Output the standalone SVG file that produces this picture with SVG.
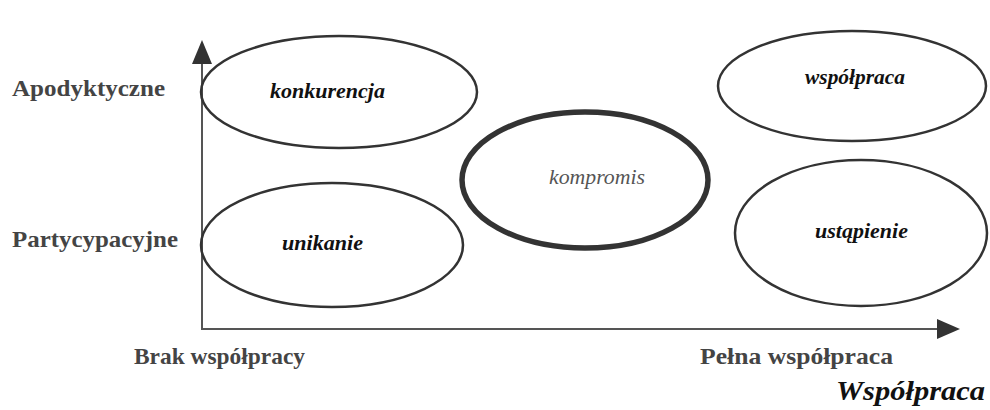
<svg xmlns="http://www.w3.org/2000/svg" width="990" height="410" viewBox="0 0 990 410">
<style>
.e{fill:none;stroke:#333;stroke-width:2.5}
.ax{stroke:#555;stroke-width:2;fill:none}
.lab{font-family:'Liberation Serif',serif;font-weight:bold;font-size:23px;fill:#444}
.in{font-family:'Liberation Serif',serif;font-weight:bold;font-style:italic;font-size:21px;fill:#111}
</style>
<rect width="990" height="410" fill="#fff"/>
<g id="connectors">
<line class="ax" x1="202" y1="330" x2="202" y2="50"/>
<path d="M192,64 L202,40 L212,64 Z" fill="#333"/>
<line class="ax" x1="202" y1="329" x2="945" y2="329"/>
<path d="M937,319 L960,329 L937,339 Z" fill="#333"/>
</g>
<g id="konkurencja"><ellipse class="e" cx="339" cy="92" rx="138" ry="56"/><text class="in" x="270" y="98" textLength="115" lengthAdjust="spacingAndGlyphs">konkurencja</text></g>
<g id="unikanie"><ellipse class="e" cx="332" cy="245" rx="131" ry="62"/><text class="in" x="282" y="250" textLength="81" lengthAdjust="spacingAndGlyphs">unikanie</text></g>
<g id="kompromis"><ellipse cx="585" cy="180" rx="123" ry="68" fill="none" stroke="#333" stroke-width="5.5"/><text x="549" y="184" style="font-family:'Liberation Serif',serif;font-style:italic;font-size:20px;fill:#555" textLength="96" lengthAdjust="spacingAndGlyphs">kompromis</text></g>
<g id="wspolpraca"><ellipse class="e" cx="852" cy="86" rx="134" ry="55"/><text class="in" x="805" y="84" textLength="100" lengthAdjust="spacingAndGlyphs">współpraca</text></g>
<g id="ustapienie"><ellipse class="e" cx="861" cy="233" rx="126" ry="73"/><text class="in" x="815" y="238" textLength="93" lengthAdjust="spacingAndGlyphs">ustąpienie</text></g>
<g id="labels">
<text class="lab" x="12" y="96" textLength="153" lengthAdjust="spacingAndGlyphs">Apodyktyczne</text>
<text class="lab" x="12" y="247" textLength="166" lengthAdjust="spacingAndGlyphs">Partycypacyjne</text>
<text class="lab" x="134" y="364" textLength="171" lengthAdjust="spacingAndGlyphs">Brak współpracy</text>
<text class="lab" x="700" y="364" textLength="193" lengthAdjust="spacingAndGlyphs">Pełna współpraca</text>
<text x="836" y="400" style="font-family:'Liberation Serif',serif;font-weight:bold;font-style:italic;font-size:27px;fill:#111" textLength="149" lengthAdjust="spacingAndGlyphs">Współpraca</text>
</g>
</svg>
